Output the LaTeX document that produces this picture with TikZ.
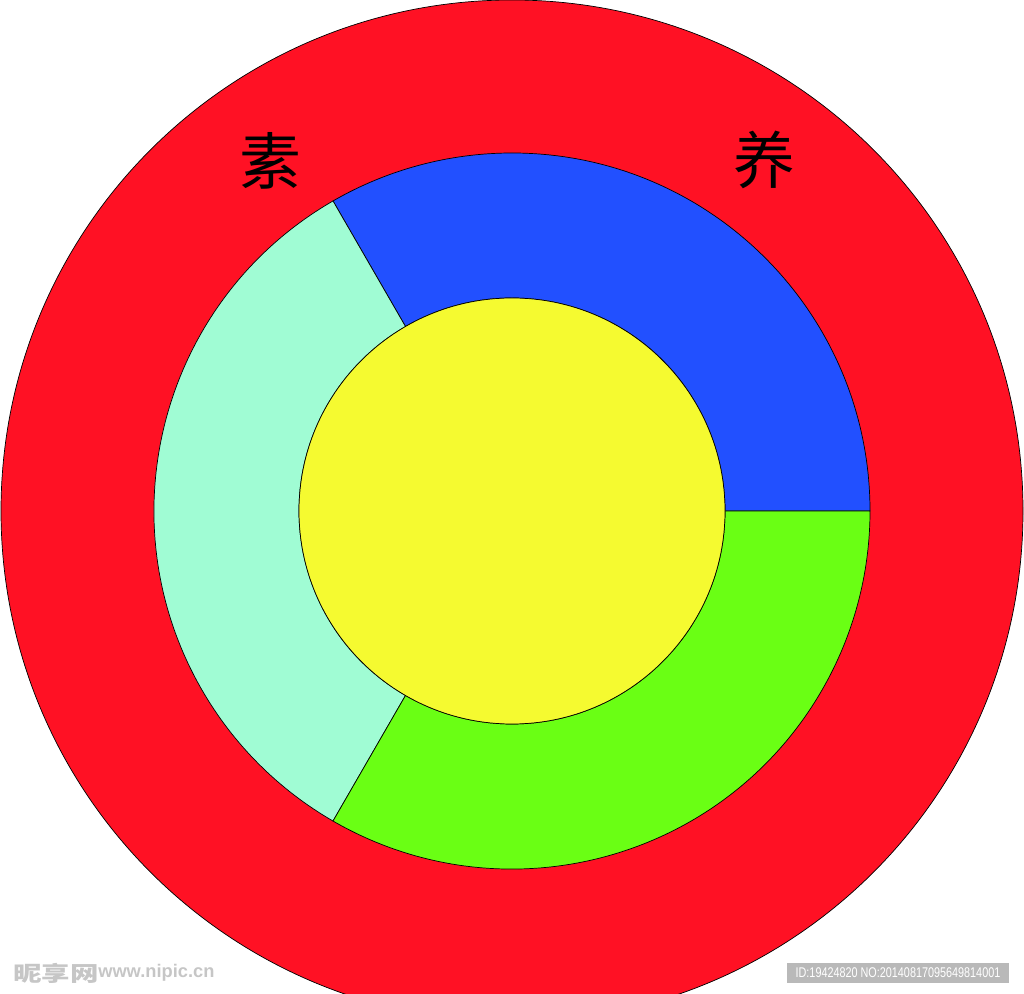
\documentclass[tikz,border=0pt]{standalone}
\usepackage{fontspec}
\newfontfamily\cjk{Noto Sans CJK SC}
\newfontfamily\wmfont{Liberation Sans}
\usetikzlibrary{calc}
\usetikzlibrary{positioning}

\definecolor{ringred}{RGB}{255,17,36}
\definecolor{sectblue}{RGB}{34,80,255}
\definecolor{sectcyan}{RGB}{160,252,212}
\definecolor{sectgreen}{RGB}{106,255,20}
\definecolor{coreyellow}{RGB}{245,250,48}

\begin{document}
\begin{tikzpicture}[
	x=0.025cm, y=0.025cm,
  ring/.style = {draw=black,line width=0.5pt},
  word/.style = {font=\cjk\fontsize{44}{44}\selectfont, inner sep=0pt},
  mark text/.style = {text=gray!45, inner sep=0pt}
  ]
	\useasboundingbox (0,0) rectangle (1024,993);

	\coordinate (@c) at (512,482);

	\begin{scope}
		\clip (0,0) rectangle (1024,993);
		\filldraw[ring,fill=ringred] (@c) circle[radius=511];
	\end{scope}

	\foreach \a/\b/\col in {0/120/sectblue, 120/240/sectcyan, 240/360/sectgreen}
		\filldraw[ring,fill=\col] ($(@c)+(\a:213)$) -- ($(@c)+(\a:358)$)
			arc[start angle=\a,end angle=\b,radius=358] -- ($(@c)+(\b:213)$)
			arc[start angle=\b,end angle=\a,radius=213] -- cycle;

	\filldraw[ring,fill=coreyellow] (@c) circle[radius=213];

	\node[word] (su) at (270,832) {素};
	\node[word] (yang) at (764,833) {养};

	% watermark
	\node[mark text,font=\cjk\bfseries\fontsize{15}{15}\selectfont,xscale=1.35,anchor=west] (logo) at (13,20) {昵享网};
	\node[mark text,font=\wmfont\bfseries\fontsize{13}{13}\selectfont,anchor=west] (site) at (98,20) {www.nipic.cn};
	\node[fill=gray!55,text=white,font=\wmfont\fontsize{10}{10}\selectfont,xscale=0.77,
		minimum width=7.2cm,minimum height=0.5cm,inner sep=0pt] (idbox) at (898,20) {ID:19424820 NO:20140817095649814001};

\end{tikzpicture}
\end{document}
